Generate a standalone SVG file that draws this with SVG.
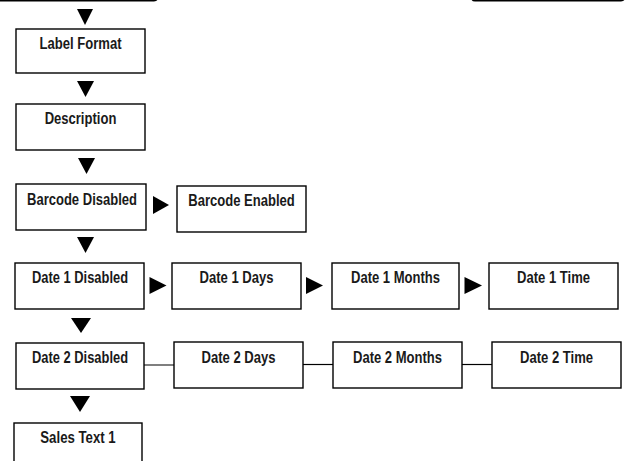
<svg xmlns="http://www.w3.org/2000/svg" width="637" height="461" viewBox="0 0 637 461">
<style>
.box{fill:#fff;stroke:#000;stroke-width:1.4}
.lbl{font-family:"Liberation Sans",Arial,sans-serif;font-weight:bold;font-size:16px;fill:#1a1a1a;text-anchor:middle}
.tri{fill:#000}
.ln{stroke:#000;stroke-width:1.2;fill:none}
.bar{fill:none;stroke:#000;stroke-width:2}
</style>
<rect width="637" height="461" fill="#fff"/>
<g id="top-bars">
<rect class="bar" x="-10" y="-40" width="167" height="40.5" rx="3"/>
<rect class="bar" x="472" y="-40" width="152" height="40.5" rx="3"/>
</g>
<g id="connectors">
<polygon class="tri" points="77,9 93,9 85,25"/>
<polygon class="tri" points="77,81 94,81 85.5,97"/>
<polygon class="tri" points="78,158 95,158 86.5,174"/>
<polygon class="tri" points="77,237 94,237 85.5,253"/>
<polygon class="tri" points="71,318 91,318 81,333"/>
<polygon class="tri" points="70,396 90,396 80,412"/>
<polygon class="tri" points="153,196 169,205 153,214"/>
<polygon class="tri" points="149.5,277 166.5,285.5 149.5,294"/>
<polygon class="tri" points="306,277 323,285.5 306,294"/>
<polygon class="tri" points="464.5,277 482,285.5 464.5,294"/>
<line class="ln" x1="141" y1="365" x2="174" y2="365"/>
<line class="ln" x1="303" y1="364.5" x2="333" y2="364.5"/>
<line class="ln" x1="462" y1="364.5" x2="492" y2="364.5"/>
</g>
<g id="label-format"><rect class="box" x="16" y="29" width="129" height="44"/><text class="lbl" x="80.5" y="49" textLength="82" lengthAdjust="spacingAndGlyphs">Label Format</text></g>
<g id="description"><rect class="box" x="16" y="104" width="129" height="46"/><text class="lbl" x="80.5" y="124" textLength="71.7" lengthAdjust="spacingAndGlyphs">Description</text></g>
<g id="barcode-disabled"><rect class="box" x="16" y="184" width="130" height="46"/><text class="lbl" x="82" y="205" textLength="110" lengthAdjust="spacingAndGlyphs">Barcode Disabled</text></g>
<g id="barcode-enabled"><rect class="box" x="177" y="186" width="129" height="46"/><text class="lbl" x="241.5" y="206" textLength="106.5" lengthAdjust="spacingAndGlyphs">Barcode Enabled</text></g>
<g id="date1-disabled"><rect class="box" x="15" y="263" width="129" height="46"/><text class="lbl" x="80" y="283" textLength="96" lengthAdjust="spacingAndGlyphs">Date 1 Disabled</text></g>
<g id="date1-days"><rect class="box" x="172" y="263" width="129" height="46"/><text class="lbl" x="236.5" y="283" textLength="74" lengthAdjust="spacingAndGlyphs">Date 1 Days</text></g>
<g id="date1-months"><rect class="box" x="332" y="263" width="127" height="46"/><text class="lbl" x="395.5" y="283" textLength="89" lengthAdjust="spacingAndGlyphs">Date 1 Months</text></g>
<g id="date1-time"><rect class="box" x="489" y="263" width="129" height="46"/><text class="lbl" x="553.5" y="283" textLength="73" lengthAdjust="spacingAndGlyphs">Date 1 Time</text></g>
<g id="date2-disabled"><rect class="box" x="16" y="343" width="128" height="46"/><text class="lbl" x="80" y="363" textLength="96" lengthAdjust="spacingAndGlyphs">Date 2 Disabled</text></g>
<g id="date2-days"><rect class="box" x="174" y="342" width="129" height="46"/><text class="lbl" x="238.5" y="362.5" textLength="74" lengthAdjust="spacingAndGlyphs">Date 2 Days</text></g>
<g id="date2-months"><rect class="box" x="333" y="342" width="129" height="46"/><text class="lbl" x="397.5" y="362.5" textLength="89" lengthAdjust="spacingAndGlyphs">Date 2 Months</text></g>
<g id="date2-time"><rect class="box" x="492" y="342" width="129" height="46"/><text class="lbl" x="556.5" y="362.5" textLength="73" lengthAdjust="spacingAndGlyphs">Date 2 Time</text></g>
<g id="sales-text-1"><rect class="box" x="14" y="423" width="128" height="50"/><text class="lbl" x="78" y="443" textLength="75.4" lengthAdjust="spacingAndGlyphs">Sales Text 1</text></g>
</svg>
